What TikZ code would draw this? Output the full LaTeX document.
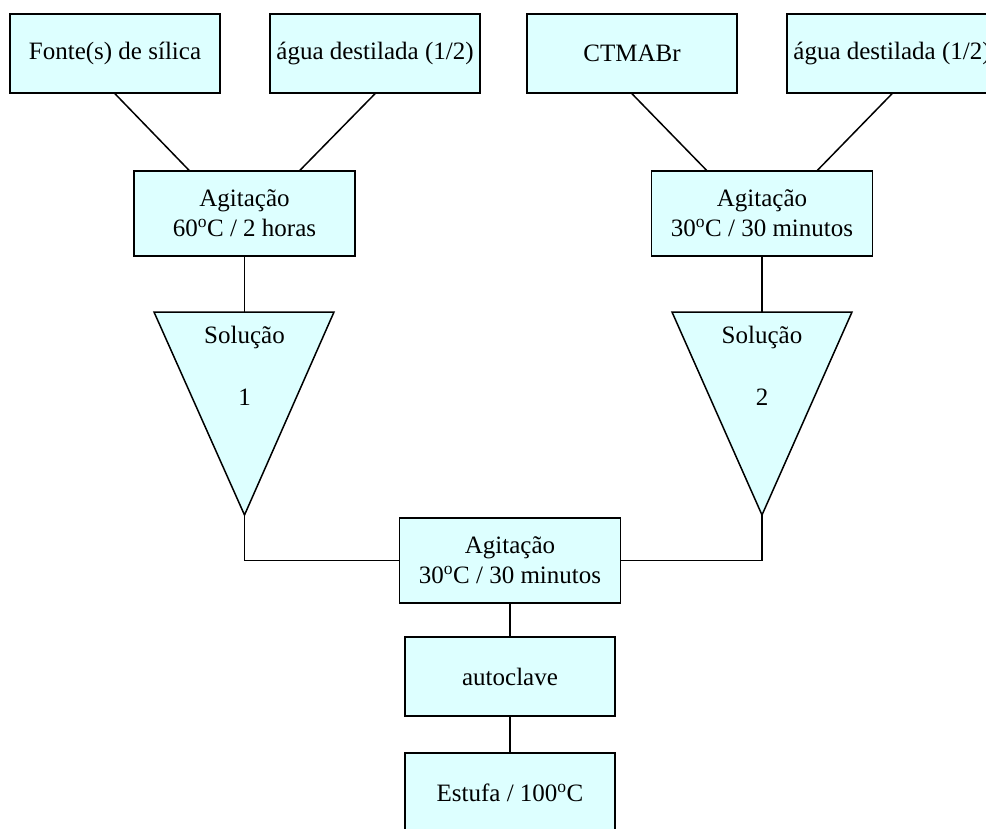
\documentclass[tikz,border=0pt]{standalone}
\usepackage{fontspec}
\setmainfont{Liberation Serif}
\definecolor{boxfill}{RGB}{221,255,255}
\begin{document}
\begin{tikzpicture}[x=1pt,y=-1pt,
  lbl/.style={font=\fontsize{25}{30}\selectfont, inner sep=0pt},
  box/.style={draw=black, fill=boxfill, line width=1.5pt, rectangle, align=center,
    font=\fontsize{25}{30}\selectfont, inner sep=0pt, minimum width=210pt, minimum height=79pt},
  wbox/.style={box, minimum width=221pt, minimum height=85pt},
  conn/.style={draw=black, line width=1.5pt},
  tri/.style={draw=black, fill=boxfill, line width=1.5pt, line join=miter}]
\useasboundingbox (0,0) rectangle (986,828);
\clip (0,0) rectangle (986,828);
\node[box] (f) at (115,53.5) {Fonte(s) de sílica};
\node[box] (w1) at (375,53.5) {água destilada (1/2)};
\node[box] (c) at (632,53.5) {CTMABr};
\node[box] (w2) at (892,53.5) {água destilada (1/2)};
\node[wbox] (a1) at (244.5,213.5) {Agitação\\60\textsuperscript{o}C / 2 horas};
\node[wbox] (a2) at (762,213.5) {Agitação\\30\textsuperscript{o}C / 30 minutos};
% triangles
\coordinate (t1l) at (154,312); \coordinate (t1r) at (334,312); \coordinate (t1a) at (244.5,515);
\coordinate (t2l) at (672,312); \coordinate (t2r) at (852,312); \coordinate (t2a) at (762,515);
\coordinate (t1t) at (244.5,312); \coordinate (t2t) at (762,312);
\draw[tri] (t1l) -- (t1r) -- (t1a) -- cycle;
\draw[tri] (t2l) -- (t2r) -- (t2a) -- cycle;
\node[lbl] (s1a) at (244.5,337) {Solução};
\node[lbl] (s1b) at (244.5,397) {1};
\node[lbl] (s2a) at (762,337) {Solução};
\node[lbl] (s2b) at (762,397) {2};
\node[wbox] (a3) at (510,560.5) {Agitação\\30\textsuperscript{o}C / 30 minutos};
\node[box] (au) at (510,676.5) {autoclave};
\node[box] (es) at (510,792.5) {Estufa / 100\textsuperscript{o}C};
% connectors
\draw[conn] (f.south) -- ([xshift=-55.5pt]a1.north);
\draw[conn] (w1.south) -- ([xshift=55.5pt]a1.north);
\draw[conn] (c.south) -- ([xshift=-55.5pt]a2.north);
\draw[conn] (w2.south) -- ([xshift=55.5pt]a2.north);
\draw[conn] (a1.south) -- (t1t);
\draw[conn] (a2.south) -- (t2t);
\draw[conn] (t1a) |- (a3.west);
\draw[conn] (t2a) |- (a3.east);
\draw[conn] (a3.south) -- (au.north);
\draw[conn] (au.south) -- (es.north);
\end{tikzpicture}
\end{document}
